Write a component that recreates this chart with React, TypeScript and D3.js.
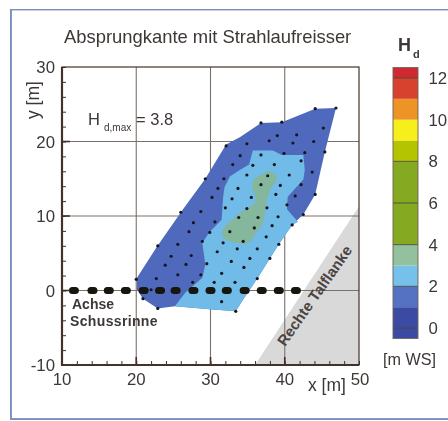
import React, { useRef, useEffect } from 'react'
import * as d3 from 'd3'

// measuring points [x, y] in metres
const points: number[][] = [
  [20.0, 1.5], [22.7, 1.6], [20.9, -1.1], [22.9, -2.4], [22.9, 6.0], [25.6, 6.2], [24.7, 4.6], [27.4, 4.7],
  [23.9, 3.4], [26.7, 3.5], [25.6, 2.1], [28.7, 2.1], [27.6, 1.1], [30.5, 1.1], [29.5, 3.6], [30.9, 5.2],
  [28.9, 6.6], [29.9, 7.8], [27.1, 7.9], [27.7, 9.1], [26.0, 10.5], [28.7, 10.6], [30.6, 9.2], [32.6, 7.9],
  [31.7, 6.4], [33.6, 5.6], [32.8, 3.9], [31.5, 2.3], [33.3, 1.1], [31.5, -1.5], [33.4, -2.8], [33.8, 9.8],
  [36.4, 9.8], [39.1, 9.9], [42.5, 10.2], [35.9, 8.4], [38.3, 8.7], [41.0, 8.8], [37.5, 7.2], [34.4, 6.6],
  [39.2, 6.2], [36.3, 5.6], [38.0, 4.3], [35.3, 4.3], [34.5, 3.1], [36.3, 1.6], [36.8, 22.5], [39.6, 22.6],
  [44.1, 24.4], [46.9, 24.5], [45.2, 21.8], [41.6, 20.9], [39.0, 20.8], [37.9, 20.1], [34.9, 19.7], [41.1, 19.8],
  [43.9, 20.0], [42.7, 18.5], [45.4, 18.6], [39.9, 18.4], [36.8, 18.2], [34.0, 18.1], [42.2, 17.4], [38.6, 16.9],
  [35.7, 16.8], [43.7, 15.9], [34.9, 15.5], [37.7, 15.4], [40.6, 15.5], [42.2, 14.2], [39.4, 14.1], [36.8, 14.2],
  [38.8, 12.9], [35.5, 12.5], [41.4, 12.7], [44.1, 12.9], [37.6, 11.1], [40.3, 11.5], [32.1, 19.4], [33.0, 16.9],
  [29.3, 15.0], [31.8, 15.0], [31.0, 13.7], [33.7, 13.7], [30.2, 12.5], [32.9, 12.3], [32.0, 11.1], [34.9, 11.0],
  [22.0, 0.1]
]

// contour outlines
const level1: number[][] = [
  [20.1, 1.7], [22.8, 5.9], [26.3, 10.9], [29.3, 15.0], [32.1, 19.6], [34.0, 20.6], [36.8, 22.5], [39.6, 22.6],
  [44.1, 24.4], [46.9, 24.5], [45.4, 18.6], [44.1, 12.9], [42.5, 10.2], [41.0, 8.8], [39.2, 6.2], [38.0, 4.3],
  [36.3, 1.6], [34.4, -1.2], [33.4, -2.8], [29.9, -2.5], [25.2, -2.1], [22.9, -2.4], [20.9, -1.1], [20.1, 0.1]
]
const level2: number[][] = [
  [35.7, 18.8], [38.4, 18.8], [39.6, 18.2], [42.5, 18.2], [42.7, 16.2], [42.5, 14.9], [40.4, 12.6], [40.3, 10.9],
  [41.8, 9.2], [41.0, 8.8], [39.2, 6.2], [38.0, 4.3], [36.3, 1.6], [34.4, -1.2], [33.4, -2.8], [29.9, -2.5],
  [25.2, -2.1], [26.6, -0.3], [28.9, 1.7], [29.3, 3.5], [28.9, 6.4], [29.9, 7.9], [31.5, 9.5], [31.7, 12.6],
  [31.9, 13.9], [32.6, 15.3], [34.0, 16.2], [35.2, 16.9]
]
const level3: number[][] = [
  [37.7, 16.0], [38.8, 15.5], [38.9, 14.9], [38.2, 13.8], [37.7, 12.6], [37.5, 11.5], [37.3, 10.2], [37.1, 9.1],
  [36.0, 7.5], [35.1, 6.4], [33.3, 6.4], [31.7, 7.1], [31.7, 8.2], [32.9, 9.5], [33.7, 10.2], [35.1, 11.1],
  [36.0, 11.8], [36.0, 12.9], [35.6, 13.9], [36.0, 15.1], [36.9, 15.5]
]
const flank: number[][] = [[36.0, -10], [50, 11.3], [50, -10]]

// centres of the dashes along the chute axis
const axisDashes = [11.6, 14.1, 16.3, 18.6, 21.0, 23.2, 25.3, 27.7, 30.0, 32.2, 34.6, 36.9, 39.2, 41.5]

// colour bar
const bands = [-0.5, 1, 2, 3, 4, 8, 9, 10, 11, 12, 12.5]
const bandColors = ['#3b4ca3', '#5472c2', '#74c1ea', '#93c19d', '#86a920', '#b5c404', '#f7ef1e', '#ec9426', '#d7432e', '#cf2b30']
const legendTicks = [0, 2, 4, 6, 8, 10, 12]
const xTicks = [10, 20, 30, 40, 50]
const yTicks = [-10, 0, 10, 20, 30]

const ink = '#3d3735'
const axisInk = '#43312b'
const gridInk = '#7b716b'
const font = '"Liberation Sans", Arial, sans-serif'

const x = d3.scaleLinear().domain([10, 50]).range([62, 359])
const y = d3.scaleLinear().domain([-10, 30]).range([365, 67])
const legendY = d3.scaleLinear().domain([0, 12]).range([328, 78])

const poly = d3.line<number[]>().x(d => x(d[0])).y(d => y(d[1]))
const smooth = d3.line<number[]>().x(d => x(d[0])).y(d => y(d[1])).curve(d3.curveCatmullRomClosed.alpha(0.5))

const App = () => {
  const xRef = useRef<SVGGElement>(null)
  const yRef = useRef<SVGGElement>(null)

  useEffect(() => {
    const xAxis = d3.select(xRef.current)
    const yAxis = d3.select(yRef.current)
    xAxis.call(d3.axisTop(x).ticks(20).tickSize(4).tickFormat(() => '') as any)
    yAxis.call(d3.axisRight(y).ticks(20).tickSize(4).tickFormat(() => '') as any)
    for (const g of [xAxis, yAxis]) {
      g.select('.domain').remove()
      g.selectAll('line').attr('stroke', axisInk).attr('stroke-width', 1)
    }
  }, [])

  return (
    <svg
      width={448}
      height={421}
      viewBox="0 0 448 421"
      style={{ position: 'absolute', left: 0, top: 0, background: '#fff' }}
      fontFamily={font}
    >
      <defs>
        <filter id="scan" x="0" y="0" width="100%" height="100%">
          <feGaussianBlur stdDeviation="0.4" />
        </filter>
      </defs>
      <g filter="url(#scan)">
        <rect x={10.5} y={9} width={445} height={410.5} fill="none" stroke="#7b8dbe" strokeWidth={2.8} />

        <text x={64} y={43} fontSize={18.4} fill={ink}>Absprungkante mit Strahlaufreisser</text>

        <path d={poly(flank) + 'Z'} fill="#d9d9d9" />
        {xTicks.slice(1, 4).map(t => (
          <line key={t} x1={x(t)} x2={x(t)} y1={y(30)} y2={y(-10)} stroke={gridInk} strokeWidth={1.1} />
        ))}
        {yTicks.slice(1, 4).map(t => (
          <line key={t} x1={x(10)} x2={x(50)} y1={y(t)} y2={y(t)} stroke={gridInk} strokeWidth={1.1} />
        ))}

        <path d={poly(level1) + 'Z'} fill="#4f6bbd" />
        <path d={poly(level2) + 'Z'} fill="#6fbbe8" />
        <path d={smooth(level3) ?? ''} fill="#84b79c" />

        {points.map((d, i) => (
          <circle key={i} cx={x(d[0])} cy={y(d[1])} r={1.6} fill="#17181f" />
        ))}
        {axisDashes.map(d => (
          <rect key={d} x={x(d) - 5} y={y(0) - 3.5} width={10} height={7} rx={3.5} fill="#17130f" />
        ))}

        <g ref={xRef} transform={`translate(0,${y(-10)})`} />
        <g ref={yRef} transform={`translate(${x(10)},0)`} />
        {xTicks.slice(1, 4).map(t => (
          <line key={t} x1={x(t)} x2={x(t)} y1={y(-10)} y2={y(-10) - 8} stroke={axisInk} strokeWidth={1.6} />
        ))}
        {yTicks.slice(1, 4).map(t => (
          <line key={t} x1={x(10)} x2={x(10) + 8} y1={y(t)} y2={y(t)} stroke={axisInk} strokeWidth={1.6} />
        ))}
        <rect x={x(10)} y={y(30)} width={x(50) - x(10)} height={y(-10) - y(30)} fill="none" stroke={axisInk} strokeWidth={1.2} />
        <path d={`M${x(10)},${y(30)}V${y(-10)}H${x(50)}`} fill="none" stroke={axisInk} strokeWidth={2.2} />

        {yTicks.map(t => (
          <text key={t} x={55} y={y(t) + 6} textAnchor="end" fontSize={16.8} fill={ink}>{t}</text>
        ))}
        {xTicks.map(t => (
          <text key={t} x={x(t) + (t === 50 ? 1 : 0)} y={385} textAnchor="middle" fontSize={16.8} fill={ink}>{t}</text>
        ))}
        <text x={308} y={391} fontSize={17.5} fill={ink}>x [m]</text>
        <text transform="translate(39,119) rotate(-90)" fontSize={17.5} fill={ink}>y [m]</text>

        <text x={88} y={125} fontSize={16.5} fill={ink}>H</text>
        <text x={104} y={131} fontSize={10} fill={ink}>d,max</text>
        <text x={136} y={125} fontSize={16.5} fill={ink}>= 3.8</text>

        <text x={72} y={309} fontSize={14} fontWeight="bold" fill={ink}>Achse</text>
        <text x={70} y={326} fontSize={14} fontWeight="bold" letterSpacing={0.35} fill={ink}>Schussrinne</text>

        <text x={398} y={51} fontSize={18} fontWeight="bold" fill={ink}>H</text>
        <text x={413} y={58} fontSize={11} fontWeight="bold" fill={ink}>d</text>

        {bandColors.map((c, i) => (
          <rect
            key={c}
            x={393}
            y={legendY(bands[i + 1])}
            width={25}
            height={legendY(bands[i]) - legendY(bands[i + 1])}
            fill={c}
          />
        ))}
        {legendTicks.filter(t => t !== 10).map(t => (
          <line key={t} x1={393} x2={418} y1={legendY(t)} y2={legendY(t)} stroke="#4a4a40" strokeWidth={0.9} />
        ))}
        <rect
          x={393}
          y={legendY(12.5)}
          width={25}
          height={legendY(-0.5) - legendY(12.5)}
          fill="none"
          stroke="#6d6258"
          strokeWidth={0.9}
        />
        {legendTicks.map(t => (
          <text key={t} x={428.5} y={legendY(t) + 6} fontSize={16.8} fill={ink}>{t}</text>
        ))}
        <text x={383} y={365} fontSize={16.2} fill={ink}>[m WS]</text>
      </g>
      <text
        transform="translate(285,347) rotate(-55)"
        fontSize={15}
        fontWeight="bold"
        textRendering="geometricPrecision"
        fill="#4a4442"
      >Rechte Talflanke</text>
    </svg>
  )
}

export default App
